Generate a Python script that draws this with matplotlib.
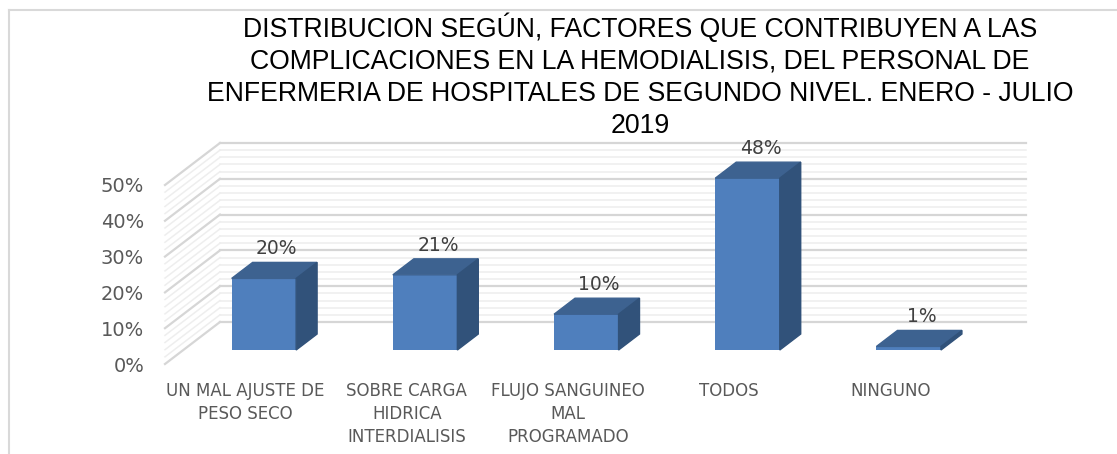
import matplotlib.pyplot as plt
from matplotlib.patches import Polygon
from matplotlib.lines import Line2D

# datos del grafico
categorias = ["UN MAL AJUSTE DE\nPESO SECO", "SOBRE CARGA\nHIDRICA\nINTERDIALISIS",
              "FLUJO SANGUINEO\nMAL\nPROGRAMADO", "TODOS", "NINGUNO"]
porcentajes = [20, 21, 10, 48, 1]
etiquetas = ["20%", "21%", "10%", "48%", "1%"]
ticks_y = [0, 10, 20, 30, 40, 50]
titulo = ("DISTRIBUCION SEGÚN, FACTORES QUE CONTRIBUYEN A LAS\n"
          "COMPLICACIONES EN LA HEMODIALISIS, DEL PERSONAL DE\n"
          "ENFERMERIA DE HOSPITALES DE SEGUNDO NIVEL. ENERO - JULIO\n2019")

# perspectiva (profundidad en unidades de datos)
DX, DY = 0.341, 11.73
D0, D1 = 0.333, 0.714
ANCHO = 0.40

C_FRENTE = "#4F7FBD"
C_TOPE = "#3D6290"
C_LADO = "#31527A"
GRIS = "#595959"
FUENTE = ["Liberation Sans Narrow", "DejaVu Sans"]

W, H = 1117, 454
fig = plt.figure(figsize=(W / 100, H / 100), dpi=100)
ax = fig.add_axes([165 / W, 90 / H, (1026 - 165) / W, (364 - 143) / H])
ax.set_xlim(-0.5, 4.5 + DX)
ax.set_ylim(0, 50 + DY)

# paredes con lineas de cuadricula
for v in range(0, 51, 2):
    mayor = v % 10 == 0
    col = "#D6D6D6" if mayor else "#EEEEEE"
    lw = 1.6 if mayor else 1.1
    ax.plot([-0.5 + DX, 4.5 + DX], [v + DY, v + DY], color=col, lw=lw, zorder=1, clip_on=False)
    ax.plot([-0.5, -0.5 + DX], [v, v + DY], color=col, lw=lw, zorder=1, clip_on=False)

# barras 3D
for i, val in enumerate(porcentajes):
    x0 = i + D0 * DX - ANCHO / 2
    y0 = D0 * DY
    ax.bar(i + D0 * DX, val, bottom=y0, width=ANCHO, color=C_FRENTE, zorder=3)
    ddx = (D1 - D0) * DX
    ddy = (D1 - D0) * DY
    tope = [(x0, y0 + val), (x0 + ANCHO, y0 + val),
            (x0 + ANCHO + ddx, y0 + val + ddy), (x0 + ddx, y0 + val + ddy)]
    lado = [(x0 + ANCHO, y0), (x0 + ANCHO + ddx, y0 + ddy),
            (x0 + ANCHO + ddx, y0 + val + ddy), (x0 + ANCHO, y0 + val)]
    ax.add_patch(Polygon(tope, closed=True, color=C_TOPE, zorder=3, clip_on=False))
    ax.add_patch(Polygon(lado, closed=True, color=C_LADO, zorder=3, clip_on=False))
    ax.text(i + D0 * DX + 0.08, D1 * DY + val + 3.8, etiquetas[i], ha="center", va="center",
            fontsize=13.5, color="#404040", zorder=4, clip_on=False, family=FUENTE)

ax.set_xticks(range(len(categorias)))
ax.set_xticklabels(categorias, fontsize=12, color=GRIS, linespacing=1.35, family=FUENTE)
ax.set_yticks(ticks_y)
ax.set_yticklabels([f"{t}%" for t in ticks_y], fontsize=14, color=GRIS, family=FUENTE)
ax.tick_params(axis="x", length=0, pad=13)
ax.tick_params(axis="y", length=0, pad=15)
for s in ax.spines.values():
    s.set_visible(False)
ax.patch.set_alpha(0)

fig.text(640 / W, 1 - 76 / H, titulo, ha="center", va="center", fontsize=19.2,
         family="Liberation Sans", color="black", linespacing=1.3)

# borde del grafico
fig.add_artist(Line2D([9 / W, 1], [1 - 10 / H, 1 - 10 / H], color="#D9D9D9", lw=1.5))
fig.add_artist(Line2D([9 / W, 9 / W], [0, 1 - 10 / H], color="#D9D9D9", lw=1.5))

fig.savefig("out.png", dpi=100)
